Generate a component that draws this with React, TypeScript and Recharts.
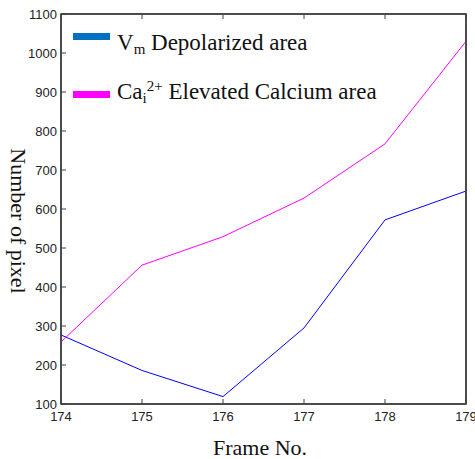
import React from 'react';
import { LineChart, Line, XAxis, YAxis, ReferenceArea } from 'recharts';

const frames = [174, 175, 176, 177, 178, 179];
const vmArea = [277, 186, 119, 295, 572, 646];
const caArea = [259, 456, 529, 628, 767, 1030];
const xTicks = [174, 175, 176, 177, 178, 179];
const yTicks = [100, 200, 300, 400, 500, 600, 700, 800, 900, 1000, 1100];

const data = frames.map((f, i) => ({ frame: f, vm: vmArea[i], ca: caArea[i] }));

const axisColor = '#404040';
const tickFont = '"Liberation Sans", Arial, sans-serif';
const serif = '"Liberation Serif", "Times New Roman", serif';

const BottomTick = (props: any) => {
    const { x, y, payload } = props;
    return (
        <g>
            <line x1={x} x2={x} y1={y} y2={y - 5} stroke={axisColor} strokeWidth={1} />
            <text x={x} y={y + 17} textAnchor="middle" fontSize={13} fontFamily={tickFont} fill="#222">
                {payload.value}
            </text>
        </g>
    );
};

const TopTick = (props: any) => {
    const { x, y } = props;
    return <line x1={x} x2={x} y1={y} y2={y + 5} stroke={axisColor} strokeWidth={1} />;
};

const LeftTick = (props: any) => {
    const { x, y, payload } = props;
    return (
        <g>
            <line x1={x} x2={x + 5} y1={y} y2={y} stroke={axisColor} strokeWidth={1} />
            <text x={x - 4} y={y + 5} textAnchor="end" fontSize={13} fontFamily={tickFont} fill="#222">
                {payload.value}
            </text>
        </g>
    );
};

const RightTick = (props: any) => {
    const { x, y } = props;
    return <line x1={x} x2={x - 5} y1={y} y2={y} stroke={axisColor} strokeWidth={1} />;
};

const LegendBox = () => (
    <div
        style={{
            position: 'absolute',
            left: 0,
            top: 0,
            width: 400,
            height: 120,
            fontFamily: serif,
            fontSize: 23,
            color: '#111',
            pointerEvents: 'none',
        }}
    >
        <div style={{ position: 'absolute', left: 73, top: 33, width: 37, height: 7, background: '#0070C0' }} />
        <div style={{ position: 'absolute', left: 117, top: 31, lineHeight: '23px', whiteSpace: 'nowrap' }}>
            V<span style={{ fontSize: 15, position: 'relative', top: 4 }}>m</span> Depolarized area
        </div>
        <div style={{ position: 'absolute', left: 73, top: 91, width: 37, height: 7, background: '#FF00FF' }} />
        <div style={{ position: 'absolute', left: 117, top: 80, lineHeight: '23px', whiteSpace: 'nowrap' }}>
            Ca<span style={{ fontSize: 15, position: 'relative', top: 4 }}>i</span>
            <span style={{ fontSize: 15, position: 'relative', top: -8 }}>2+</span> Elevated Calcium area
        </div>
    </div>
);

export default function App() {
    return (
        <div style={{ position: 'absolute', left: 0, top: 0, width: 475, height: 459, background: '#fff' }}>
            <LineChart width={475} height={459} data={data} margin={{ top: 13, right: 8, left: 0, bottom: 0 }}>
                <XAxis
                    dataKey="frame"
                    type="number"
                    domain={[174, 179]}
                    ticks={xTicks}
                    height={55}
                    tickSize={0}
                    tickMargin={0}
                    tick={<BottomTick />}
                    axisLine={{ stroke: axisColor, strokeWidth: 1.5 }}
                    interval={0}
                />
                <XAxis
                    xAxisId="top"
                    orientation="top"
                    dataKey="frame"
                    type="number"
                    domain={[174, 179]}
                    ticks={xTicks}
                    height={1}
                    tickSize={0}
                    tickMargin={0}
                    tick={<TopTick />}
                    axisLine={{ stroke: axisColor, strokeWidth: 1.5 }}
                    interval={0}
                />
                <YAxis
                    type="number"
                    domain={[100, 1100]}
                    ticks={yTicks}
                    width={61}
                    tickSize={0}
                    tickMargin={0}
                    tick={<LeftTick />}
                    axisLine={{ stroke: axisColor, strokeWidth: 1.5 }}
                    interval={0}
                />
                <YAxis
                    yAxisId="right"
                    orientation="right"
                    type="number"
                    domain={[100, 1100]}
                    ticks={yTicks}
                    width={1}
                    tickSize={0}
                    tickMargin={0}
                    tick={<RightTick />}
                    axisLine={{ stroke: axisColor, strokeWidth: 1.5 }}
                    interval={0}
                />
                <ReferenceArea
                    x1={174}
                    x2={179}
                    y1={100}
                    y2={1100}
                    fill="none"
                    stroke={axisColor}
                    strokeWidth={1.5}
                    ifOverflow="visible"
                />
                <Line dataKey="vm" stroke="#0000FF" strokeWidth={1} dot={false} isAnimationActive={false} />
                <Line dataKey="ca" stroke="#FF00FF" strokeWidth={1} dot={false} isAnimationActive={false} />
                <text x={260} y={455} textAnchor="middle" fontSize={22} fontFamily={serif} fill="#111">
                    Frame No.
                </text>
                <text
                    x={18}
                    y={221}
                    textAnchor="middle"
                    dominantBaseline="central"
                    transform="rotate(90 18 221)"
                    fontSize={22}
                    fontFamily={serif}
                    fill="#111"
                >
                    Number of pixel
                </text>
            </LineChart>
            <LegendBox />
        </div>
    );
}
